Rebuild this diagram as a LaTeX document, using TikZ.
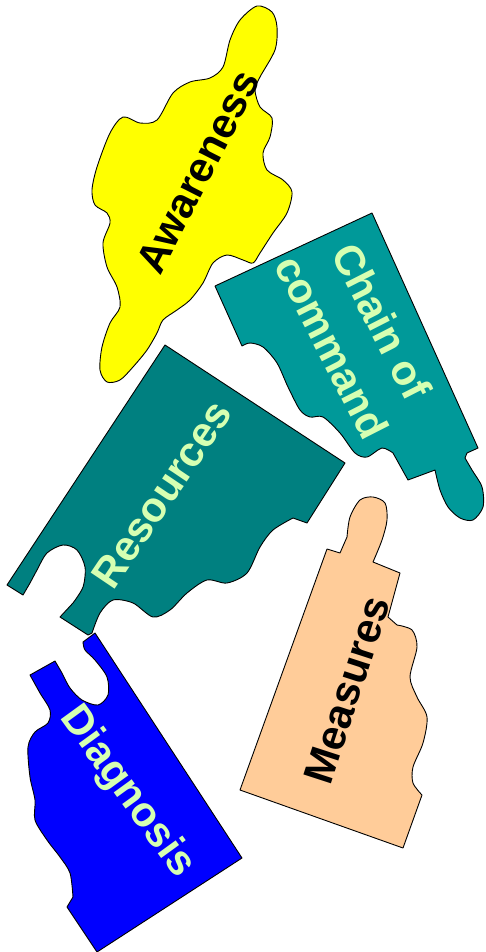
\documentclass[tikz,border=0pt]{standalone}
\usepackage{fontspec}
\setmainfont{Liberation Sans}
\definecolor{amarillo}{HTML}{FFFF00}
\definecolor{verdeazul}{HTML}{009999}
\definecolor{verdeoscuro}{HTML}{008080}
\definecolor{durazno}{HTML}{FFCC99}
\definecolor{azul}{HTML}{0000FF}
\definecolor{textoclaro}{HTML}{D6FFB2}
\tikzset{
  pieza/.style={draw=black, line width=0.9pt, line join=round},
  rotulo/.style={font=\bfseries\fontsize{42}{56}\selectfont, inner sep=0pt, align=center}
}
\begin{document}
\begin{tikzpicture}[x=1pt, y=-1pt]
            \useasboundingbox (0,0) rectangle (485,952);

            % Pieza amarilla
            \filldraw[pieza, fill=amarillo] plot[smooth cycle] coordinates {
              (257,6) (272,12) (277,27) (275,50) (260,77) (255,90) (260,107) (272,118)
              (270,137) (263,153) (267,170) (283,180) (292,192) (287,213) (273,233)
              (260,253) (253,263) (243,260) (227,255) (213,263) (203,283) (190,300)
              (177,310) (163,320) (157,333) (147,350) (133,367) (120,380) (107,382)
              (100,370) (102,347) (110,323) (120,307) (117,287) (107,267) (103,243)
              (110,223) (107,213) (95,205) (92,190) (97,167) (110,133) (123,117)
              (140,123) (157,120) (173,93) (190,82) (210,78) (223,67) (230,40) (240,20)};
            \node[rotulo, rotate=63] (awareness) at (198,172) {Awareness};

            % Cadena de mando
            \filldraw[pieza, fill=verdeazul] (215,286) -- (372,213) -- (478,448) -- (467,453)
              -- plot[smooth] coordinates {(465,458) (472,470) (482,487) (483,507) (473,520)
                 (460,518) (448,507) (440,490) (435,470)}
              -- (408,480)
              -- plot[smooth] coordinates {(393,453) (382,448) (367,457) (355,453) (340,433)
                 (323,417) (310,417) (300,410) (288,387) (277,363) (263,347) (250,343) (242,346)}
              -- cycle;
            \node[rotulo, text=textoclaro, rotate=-63] (chain) at (357,334) {Chain of\\command};

            % Pieza azul (debajo de la verde)
            \filldraw[pieza, fill=azul] (95,633) -- (242,858) -- (97,952) -- (67,907)
              -- plot[smooth] coordinates {(73,897) (70,873) (60,857) (47,840) (35,820)
                 (35,800) (30,777) (28,747) (35,732) (48,723) (50,710) (40,693) (30,675)}
              -- (55,661)
              -- plot[smooth] coordinates {(62,673) (70,688) (82,700) (98,705) (108,695)
                 (107,677) (95,660) (85,650) (83,642)}
              -- cycle;
            \node[rotulo, text=textoclaro, rotate=-54] (diagnosis) at (127,792) {Diagnosis};

            % Recursos
            \filldraw[pieza, fill=verdeoscuro] (165,345) -- (345,463) -- (307,523)
              -- plot[smooth] coordinates {(293,518) (273,530) (260,547) (247,573) (227,583)
                 (207,580) (187,593) (170,610) (153,617) (133,603) (113,600) (100,613) (92,633)}
              -- (88,635) -- (60,617)
              -- plot[smooth] coordinates {(73,603) (83,587) (85,567) (77,550) (63,545)
                 (47,553) (37,570) (30,583) (23,595)}
              -- (7,585) -- cycle;
            \node[rotulo, text=textoclaro, rotate=56] (resources) at (162,494) {Resources};

            % Medidas
            \filldraw[pieza, fill=durazno] (327,549) -- (340,553)
              -- plot[smooth] coordinates {(347,537) (350,517) (360,500) (373,497) (385,503)
                 (387,520) (382,540) (373,562)}
              -- (400,573) -- (388,617)
              -- plot[smooth] coordinates {(397,625) (412,630) (417,647) (410,677) (417,697)
                 (427,717) (423,743) (413,767) (413,783) (422,795)}
              -- (403,848) -- (240,790) -- cycle;
            \node[rotulo, rotate=72] (measures) at (347,690) {Measures};
        \end{tikzpicture}
\end{document}
